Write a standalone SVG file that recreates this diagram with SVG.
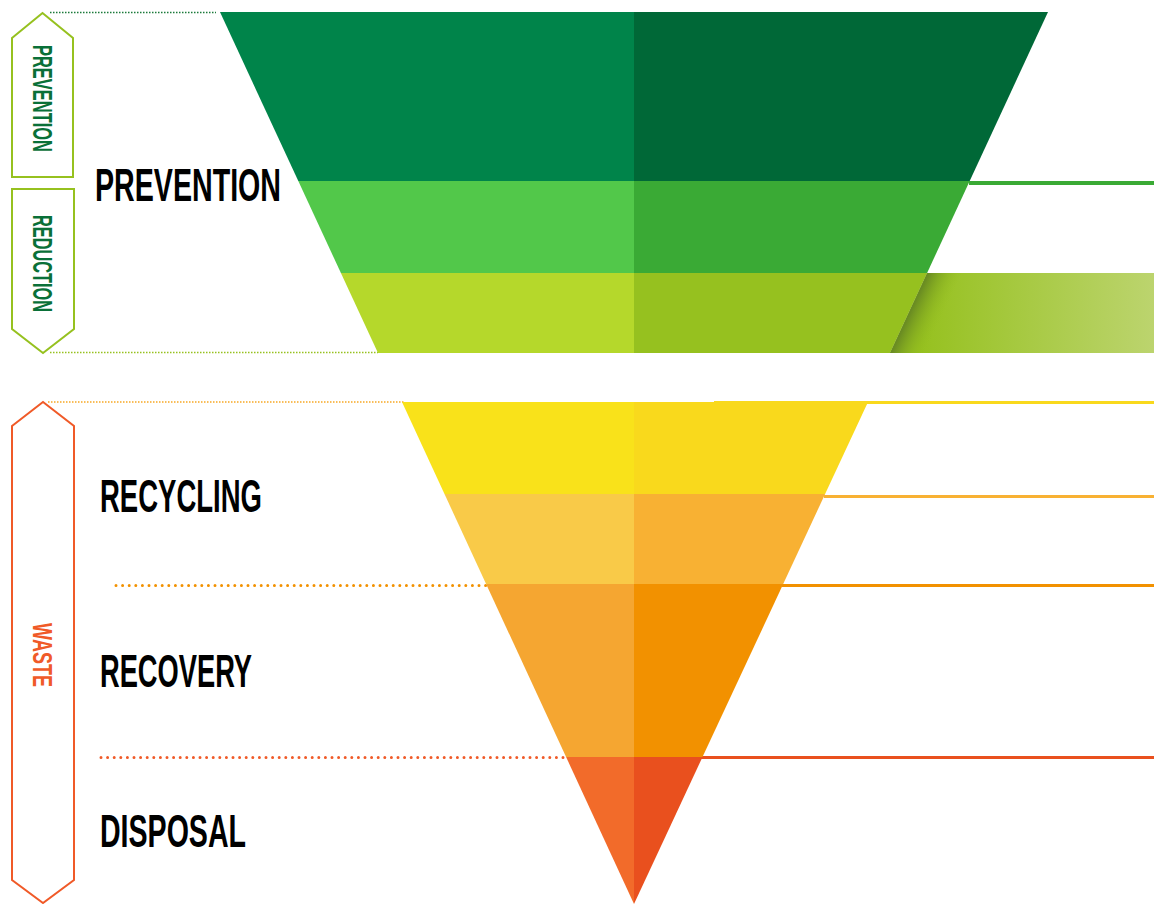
<svg xmlns="http://www.w3.org/2000/svg" width="1154" height="904" viewBox="0 0 1154 904">
<style>
.lbl{font-family:"Liberation Sans",Arial,sans-serif;font-weight:bold;font-size:46px;fill:#000}
.vl{font-family:"Liberation Sans",Arial,sans-serif;font-weight:bold;font-size:27px}
.brk{fill:none;stroke-width:2}
.dotS{fill:none;stroke-width:1.5;stroke-dasharray:1.5 1.5}
.dotL{fill:none;stroke-width:3;stroke-linecap:round;stroke-dasharray:0 6.6}
.ln{fill:none;stroke-width:3}
</style>
<defs>
<linearGradient id="ext" gradientUnits="userSpaceOnUse" x1="920" y1="0" x2="1154" y2="0">
<stop offset="0" stop-color="#96c11f"/><stop offset="1" stop-color="#bcd46e"/>
</linearGradient>
<linearGradient id="shadow" gradientUnits="userSpaceOnUse" x1="910" y1="313" x2="938" y2="326">
<stop offset="0" stop-color="#6a8c22" stop-opacity="1"/><stop offset="1" stop-color="#96c11f" stop-opacity="0"/>
</linearGradient>
</defs>
<rect width="1154" height="904" fill="#fff"/>

<g id="connectors">
<line class="dotS" x1="50" y1="12.5" x2="216" y2="12.5" stroke="#1b7a3a"/>
<line class="dotS" x1="50" y1="352.5" x2="378" y2="352.5" stroke="#96c11f"/>
<line class="dotS" x1="48" y1="402" x2="404" y2="402" stroke="#f7a823"/>
<line class="dotL" x1="116" y1="585.5" x2="487" y2="585.5" stroke="#f29100"/>
<line class="dotL" x1="101" y1="757.5" x2="566" y2="757.5" stroke="#f05a28"/>
<line x1="969" y1="183" x2="1154" y2="183" stroke="#3aaa35" stroke-width="4"/>
<line class="ln" x1="714" y1="402.5" x2="1154" y2="402.5" stroke="#f9d91c"/>
<line class="ln" x1="824" y1="496.5" x2="1154" y2="496.5" stroke="#f8b133"/>
<line class="ln" x1="782" y1="585.5" x2="1154" y2="585.5" stroke="#f29100"/>
<line class="ln" x1="701" y1="757.5" x2="1154" y2="757.5" stroke="#e9501e"/>
</g>

<g id="band-prevention-top">
<polygon points="220,12 634,12 634,181 298.3,181" fill="#00844a"/>
<polygon points="634,12 1048,12 969.7,181 634,181" fill="#006837"/>
</g>
<g id="band-prevention-mid">
<polygon points="298.3,181 634,181 634,273 340.9,273" fill="#52c84a"/>
<polygon points="634,181 969.7,181 927.1,273 634,273" fill="#3aaa35"/>
</g>
<g id="band-reduction">
<polygon points="340.9,273 634,273 634,353 378,353" fill="#b5d82b"/>
<polygon points="634,273 927.1,273 890,353 634,353" fill="#96c11f"/>
<polygon points="927.1,273 1154,273 1154,353 890,353" fill="url(#ext)"/>
<polygon points="927.1,273 962,273 925,353 890,353" fill="url(#shadow)"/>
</g>

<g id="band-recycling-top">
<polygon points="402,402 634,402 634,494 444.5,494" fill="#f9e21a"/>
<polygon points="634,402 868,402 825.1,494 634,494" fill="#f9d91c"/>
</g>
<g id="band-recycling-bottom">
<polygon points="444.5,494 634,494 634,584 486.1,584" fill="#f9ca48"/>
<polygon points="634,494 825.1,494 783.2,584 634,584" fill="#f8b133"/>
</g>
<g id="band-recovery">
<polygon points="486.1,584 634,584 634,757 566.1,757" fill="#f5a631"/>
<polygon points="634,584 783.2,584 702.5,757 634,757" fill="#f29100"/>
</g>
<g id="band-disposal">
<polygon points="566.1,757 634,757 634,904" fill="#f26b2a"/>
<polygon points="634,757 702.5,757 634,904" fill="#e9501e"/>
</g>

<g id="bracket-prevention">
<path class="brk" d="M12,38 L42.5,13 L73,38 L73,177 L12,177 Z" stroke="#96c11f"/>
<text class="vl" fill="#0a7038" transform="translate(33,45) rotate(90)" x="0" y="0" textLength="107" lengthAdjust="spacingAndGlyphs">PREVENTION</text>
</g>
<g id="bracket-reduction">
<path class="brk" d="M12,189 L74,189 L74,329 L43,353 L12,329 Z" stroke="#96c11f"/>
<text class="vl" fill="#0a7038" transform="translate(33,215) rotate(90)" x="0" y="0" textLength="97" lengthAdjust="spacingAndGlyphs">REDUCTION</text>
</g>
<g id="bracket-waste">
<path class="brk" d="M12,426 L43,402 L74,426 L74,880 L43,903 L12,880 Z" stroke="#f05a28"/>
<text class="vl" fill="#f05a28" transform="translate(33,623) rotate(90)" x="0" y="0" textLength="64" lengthAdjust="spacingAndGlyphs">WASTE</text>
</g>

<g id="label-prevention"><text class="lbl" x="95" y="201" textLength="186" lengthAdjust="spacingAndGlyphs">PREVENTION</text></g>
<g id="label-recycling"><text class="lbl" x="100" y="512" textLength="162" lengthAdjust="spacingAndGlyphs">RECYCLING</text></g>
<g id="label-recovery"><text class="lbl" x="100" y="687" textLength="152" lengthAdjust="spacingAndGlyphs">RECOVERY</text></g>
<g id="label-disposal"><text class="lbl" x="100" y="847" textLength="146" lengthAdjust="spacingAndGlyphs">DISPOSAL</text></g>
</svg>
